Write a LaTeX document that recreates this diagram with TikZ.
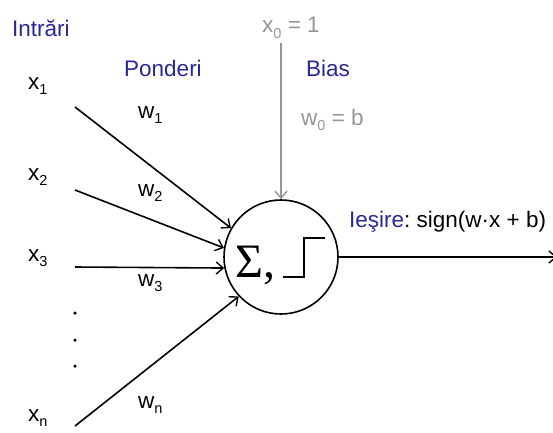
\documentclass[tikz,border=0pt]{standalone}
\usepackage{fontspec}
\setmainfont{Liberation Sans}
\newfontfamily\sigmafont{Liberation Serif}
\usetikzlibrary{arrows.meta}
\definecolor{labelblue}{RGB}{40,40,150}
\definecolor{biasgray}{RGB}{150,150,150}
\newcommand{\idx}[1]{\raisebox{-0.45ex}{\fontsize{14.5}{14.5}\selectfont #1}}

\begin{document}
\begin{tikzpicture}[
        x=1pt, y=-1pt,
        font=\fontsize{22.5}{26}\selectfont,
        lbl/.style={anchor=west, inner sep=0pt},
        head/.style={lbl, text=labelblue},
        grey/.style={lbl, text=biasgray},
        wire/.style={line width=1.6pt, -{Straight Barb[length=7pt,width=12pt,line width=1.4pt]}},
        point/.style={circle, fill=black, inner sep=0pt, minimum size=3.5pt}
    ]
    \useasboundingbox (0,0) rectangle (553,432);
    \coordinate (In1) at (75,107);
    \coordinate (In2) at (75,190);
    \coordinate (In3) at (75,267);
    \coordinate (InN) at (75,426);
    \coordinate (B) at (281,43);
    \coordinate (Out) at (557,257);

    \node[draw, circle, line width=1.6pt, minimum size=114pt, inner sep=0pt] (neuron) at (281,257) {};
    \node[anchor=base west, inner sep=0pt] (sigma) at (235,277) {\sigmafont\fontsize{48}{48}\selectfont Σ,};
    \draw[line width=1.8pt] (283,277) -- (304,277) -- (304,238) -- (325,238);

    \node[head] (intrari) at (12,28) {Intrări};
    \node[head] (ponderi) at (124,68) {Ponderi};
    \node[head] (bias) at (306,68) {Bias};
    \node[grey] (x0) at (262,28) {x\idx{0} = 1};
    \node[grey] (w0) at (301,120) {w\idx{0} = b};

    \node[lbl] (x1) at (28,86) {x\idx{1}};
    \node[lbl] (x2) at (28,177) {x\idx{2}};
    \node[lbl] (x3) at (28,258) {x\idx{3}};
    \node[lbl] (xn) at (28,418) {x\idx{n}};
    \node[lbl] (w1) at (138,115) {w\idx{1}};
    \node[lbl] (w2) at (138,193) {w\idx{2}};
    \node[lbl] (w3) at (138,283) {w\idx{3}};
    \node[lbl] (wn) at (138,405) {w\idx{n}};
    \node[point] (d1) at (75,313) {};
    \node[point] (d2) at (75,340) {};
    \node[point] (d3) at (75,366) {};

    \draw[wire] (In1) -- (neuron.150);
    \draw[wire] (In2) -- (neuron.171);
    \draw[wire] (In3) -- (neuron.191);
    \draw[wire] (InN) -- (neuron.223);
    \draw[wire, biasgray] (B) -- (neuron.north);
    \draw[wire] (neuron.east) -- (Out);

    \node[lbl] (out) at (349,222) {\textcolor{labelblue}{Ieşire}:\ sign(w·x + b)};
\end{tikzpicture}
\end{document}
